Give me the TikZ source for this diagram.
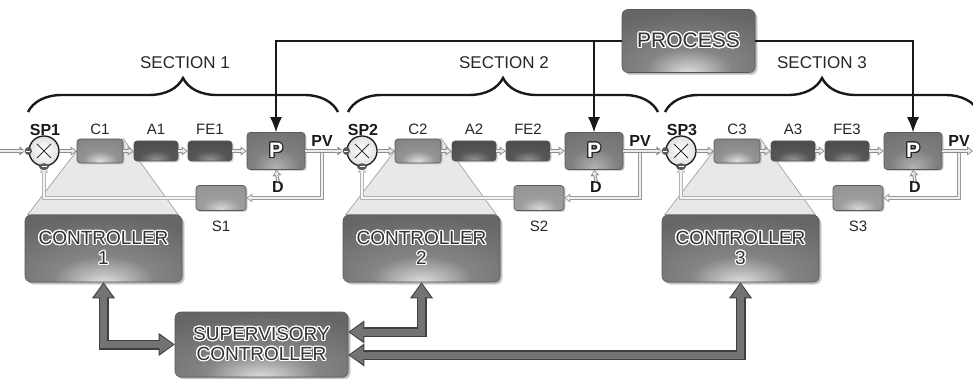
\documentclass[tikz,border=0pt]{standalone}
\usepackage{fontspec}
\setmainfont{Liberation Sans}
\usepackage{contour}
\contourlength{1.2pt}
\usetikzlibrary{arrows.meta,decorations.pathreplacing,shadows,calc,backgrounds}

\pgfdeclareradialshading{glowC}{\pgfpoint{0bp}{-22bp}}{color(0bp)=(black!12); color(18bp)=(black!42); color(40bp)=(black!48); color(100bp)=(black!48)}
\pgfdeclareradialshading{glowA}{\pgfpoint{0bp}{-22bp}}{color(0bp)=(black!42); color(18bp)=(black!66); color(40bp)=(black!70); color(100bp)=(black!70)}
\pgfdeclareradialshading{glowP}{\pgfpoint{0bp}{-22bp}}{color(0bp)=(black!30); color(20bp)=(black!50); color(40bp)=(black!55); color(100bp)=(black!55)}
\pgfdeclareradialshading{glowS}{\pgfpoint{0bp}{-22bp}}{color(0bp)=(black!15); color(18bp)=(black!38); color(40bp)=(black!42); color(100bp)=(black!42)}
\pgfdeclareradialshading{glowK}{\pgfpoint{0bp}{-26bp}}{color(0bp)=(black!12); color(16bp)=(black!48); color(40bp)=(black!60); color(100bp)=(black!62)}

\newcommand\wtxt[1]{{\color{white}\contour{black!85}{#1}}}
\newcommand\dtxt[1]{{\color{black!80}\contour{white}{#1}}}

\begin{document}
\begin{tikzpicture}[x=1pt,y=-1pt,
  lbl/.style={font=\fontsize{15}{15}\selectfont, text=black!85, inner sep=0pt},
  blbl/.style={font=\fontsize{16}{16}\selectfont\bfseries, text=black!90, inner sep=0pt},
  seclbl/.style={font=\fontsize{17}{17}\selectfont, text=black!85, inner sep=0pt},
  box/.style={shade, rounded corners=3pt, draw=black!65, line width=0.6pt, inner sep=0pt,
    drop shadow={shadow xshift=1.5pt, shadow yshift=-1.5pt, opacity=0.35}},
  cbox/.style={box, shading=glowC, minimum width=46pt, minimum height=24pt},
  abox/.style={box, shading=glowA, minimum width=44pt, minimum height=20pt},
  pbox/.style={box, shading=glowP, minimum width=58pt, minimum height=37pt,
    font=\fontsize{21}{21}\selectfont\bfseries},
  sbox/.style={box, shading=glowS, minimum width=50pt, minimum height=25pt},
  bigbox/.style={box, rounded corners=6pt, shading=glowK, align=center,
    font=\fontsize{19}{20}\selectfont,
    drop shadow={shadow xshift=2.5pt, shadow yshift=-2.5pt, opacity=0.35}},
  sumnode/.style={circle, draw=black!90, line width=1.3pt, inner color=white, outer color=black!12,
    minimum size=30pt, inner sep=0pt},
  sig/.style={draw=black!45, line width=3.4pt, -{Triangle[length=6pt,width=9pt,line width=0pt]},
    postaction={draw=black!8, line width=1.4pt, shorten >=1.4pt, -{Triangle[length=3.6pt,width=5.2pt,line width=0pt]}}},
  fb/.style={draw=black!40, line width=3.4pt, -{Triangle[length=6pt,width=9pt,line width=0pt]},
    postaction={draw=black!6, line width=1.4pt, shorten >=1.4pt, -{Triangle[length=3.6pt,width=5.2pt,line width=0pt]}}},
  fbb/.style={draw=black!30, line width=3.4pt, -{Triangle[length=6pt,width=9pt,line width=0pt]},
    postaction={draw=black!4, line width=1.4pt, shorten >=1.4pt, -{Triangle[length=3.6pt,width=5.2pt,line width=0pt]}}},
  big/.style={draw=black!75, line width=10pt,
    {Triangle[length=16pt,width=23pt,line width=0pt]}-{Triangle[length=16pt,width=23pt,line width=0pt]},
    postaction={draw=black!55, line width=7pt, shorten >=1.5pt, shorten <=1.5pt,
      {Triangle[length=13.5pt,width=18.5pt,line width=0pt]}-{Triangle[length=13.5pt,width=18.5pt,line width=0pt]}}},
  proc/.style={draw=black!90, line width=1.2pt, -{Latex[length=15pt,width=12pt]}},
  secbrace/.style={decorate, decoration={brace, amplitude=34pt}, line width=2.4pt, draw=black!90},
  trap/.style={fill=black!9, draw=black!40, line width=0.6pt},
  pmmark/.style={fill=black!65}
]
\useasboundingbox (0,0) rectangle (973,379);

% braces and section labels
\draw[secbrace] (28,112) -- (338,112);
\draw[secbrace] (348,112) -- (658,112);
\draw[secbrace] (665,112) -- (979,112);
\node[seclbl] (sec1) at (185,63) {SECTION 1};
\node[seclbl] (sec2) at (504,63) {SECTION 2};
\node[seclbl] (sec3) at (822,63) {SECTION 3};

% process
\node[bigbox, minimum width=133pt, minimum height=63pt, font=\fontsize{21}{21}\selectfont] (proc) at (688.5,41) {\dtxt{PROCESS}};

% supervisory
\node[bigbox, minimum width=173pt, minimum height=65pt] (sup) at (261.5,344.5) {\dtxt{SUPERVISORY}\\\dtxt{CONTROLLER}};

\foreach \o/\n in {0/1,318/2,637/3}{
  \node[sumnode] (sum\n) at (\o+44,151) {};
  \node[cbox] (C\n) at (\o+100,151) {};
  \node[abox] (A\n) at (\o+156,151) {};
  \node[abox] (FE\n) at (\o+210,151) {};
  \node[pbox] (P\n) at (\o+276,151) {\wtxt{P}};
  \node[sbox] (S\n) at (\o+221,198) {};
  \node[bigbox, minimum width=157pt, minimum height=67pt] (ctrl\n) at (\o+103.5,248.5) {\dtxt{CONTROLLER}\\\dtxt{\n}};
  \node[blbl] (SPl\n) at (\o+45,130) {SP\n};
  \node[lbl] (Cl\n) at (\o+100,129) {C\n};
  \node[lbl] (Al\n) at (\o+156,129) {A\n};
  \node[lbl] (FEl\n) at (\o+210,129) {FE\n};
  \node[blbl] (PVl\n) at (\o+322,141) {PV};
  \node[blbl] (Dl\n) at (\o+278,187) {D};
  \node[lbl] (Sl\n) at (\o+221,226) {S\n};
  \coordinate (tap\n) at (\o+322,151);
  % cross in the summing junction
  \draw[line width=0.9pt, black!80] ($(sum\n)+(-7,-7)$) -- ($(sum\n)+(7,7)$);
  \draw[line width=0.9pt, black!80] ($(sum\n)+(-7,7)$) -- ($(sum\n)+(7,-7)$);
  \begin{scope}[on background layer]
    \draw[trap] (C\n.west) -- (C\n.north east) -- ($(ctrl\n.north east)+(-4,0)$) -- ($(ctrl\n.north west)+(3,0)$) -- cycle;
    \draw[fb] (tap\n) |- (S\n.east);
    \draw[fbb] (S\n.west) -| (sum\n.south);
  \end{scope}
  \draw[sig] (sum\n.east) -- (C\n.west);
  \draw[sig] (C\n.east) -- (A\n.west);
  \draw[sig] (A\n.east) -- (FE\n.west);
  \draw[sig] (FE\n.east) -- (P\n.west);
  \draw[sig] (Dl\n.north) -- (P\n.south);
}

% signal chain between sections
\coordinate (in) at (0,151);
\coordinate (out) at (973,151);
\draw[sig, shorten >=3pt] (in) -- (sum1.west);
\draw[sig, shorten >=3pt] (P1.east) -- (sum2.west);
\draw[sig, shorten >=3pt] (P2.east) -- (sum3.west);
\draw[sig] (P3.east) -- (out);

% +/- markers
\foreach \n in {1,2,3}{
  \fill[pmmark] (sum\n.west) ellipse (3.6pt and 4pt);
  \draw[white, line width=0.6pt] ($(sum\n.west)+(-2,0)$) -- ($(sum\n.west)+(2,0)$);
  \fill[pmmark] (sum\n.south) ellipse (5pt and 3.4pt);
  \draw[white, line width=0.6pt] ($(sum\n.south)+(-2.5,0)$) -- ($(sum\n.south)+(2.5,0)$);
}

% process lines
\draw[proc] (proc.west) -| (P1.north);
\draw[proc] (proc.east) -| (P3.north);
\coordinate (j2) at (P2.north |- proc.west);
\draw[proc] (j2) -- (P2.north);

% controller <-> supervisory
\coordinate (supA) at ($(sup.east)+(0,-12.5)$);
\coordinate (supB) at ($(sup.east)+(0,10.5)$);
\draw[big] (ctrl1.south) |- (sup.west);
\draw[big] (ctrl2.south) |- (supA);
\draw[big] (ctrl3.south) |- (supB);
\end{tikzpicture}
\end{document}
